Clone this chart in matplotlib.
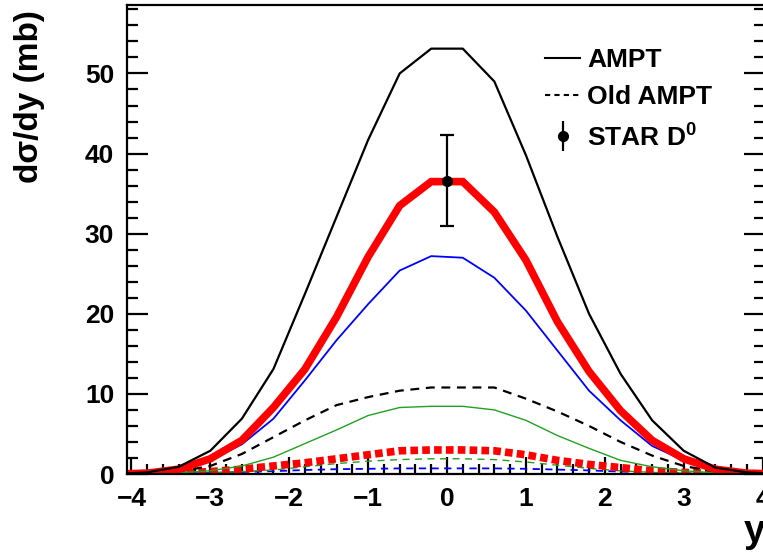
# -*- coding: utf-8 -*-

import matplotlib
matplotlib.use('Agg')
import matplotlib.pyplot as plt
from matplotlib.lines import Line2D
from matplotlib.ticker import MultipleLocator

plt.rcParams['font.family'] = ['Liberation Sans', 'DejaVu Sans']
plt.rcParams['font.weight'] = 'bold'
plt.rcParams['mathtext.fontset'] = 'custom'
plt.rcParams['mathtext.rm'] = 'Liberation Sans:bold'
plt.rcParams['mathtext.bf'] = 'Liberation Sans:bold'

# rapidity points of the model curves
y_pts = [-4.2, -3.8, -3.4, -3.0, -2.6, -2.2, -1.8, -1.4, -1.0, -0.6, -0.2,
         0.2, 0.6, 1.0, 1.4, 1.8, 2.2, 2.6, 3.0, 3.4, 3.8, 4.2]

ampt = [0.0, 0.2, 0.9, 2.9, 6.9, 13.1, 22.5, 32.1, 41.7, 50.0, 53.1,
        53.1, 49.0, 39.8, 29.6, 20.0, 12.5, 6.7, 2.9, 0.8, 0.2, 0.0]
ampt_red = [0.0, 0.1, 0.6, 1.9, 4.2, 8.3, 13.1, 19.6, 27.1, 33.5, 36.5,
            36.5, 32.7, 26.7, 19.0, 12.8, 7.9, 4.2, 1.9, 0.6, 0.1, 0.0]
ampt_blue = [0.0, 0.1, 0.5, 1.7, 3.7, 6.9, 11.7, 16.7, 21.2, 25.4, 27.2,
             27.0, 24.5, 20.4, 15.4, 10.4, 6.7, 3.5, 1.7, 0.5, 0.1, 0.0]
ampt_green = [0.0, 0.05, 0.15, 0.4, 1.0, 2.1, 3.8, 5.5, 7.3, 8.3, 8.45,
              8.45, 8.0, 6.7, 4.8, 3.2, 1.7, 0.9, 0.4, 0.15, 0.05, 0.0]

old_ampt = [0.0, 0.1, 0.3, 1.0, 2.5, 4.6, 6.7, 8.6, 9.6, 10.4, 10.8,
            10.8, 10.8, 9.4, 7.8, 6.0, 4.0, 2.3, 1.0, 0.3, 0.1, 0.0]
old_red = [0.0, 0.05, 0.1, 0.3, 0.6, 1.0, 1.4, 1.9, 2.4, 2.9, 3.0,
           3.0, 2.9, 2.4, 1.7, 1.2, 0.8, 0.4, 0.2, 0.1, 0.05, 0.0]
old_green = [0.0, 0.0, 0.05, 0.1, 0.3, 0.5, 0.9, 1.3, 1.6, 1.8, 1.9,
             1.9, 1.8, 1.5, 1.1, 0.7, 0.4, 0.2, 0.1, 0.05, 0.0, 0.0]
old_blue = [0.0, 0.0, 0.05, 0.15, 0.25, 0.35, 0.5, 0.6, 0.65, 0.7, 0.7,
            0.7, 0.7, 0.65, 0.55, 0.45, 0.3, 0.2, 0.1, 0.05, 0.0, 0.0]

star_y = [0.0]
star_val = [36.6]
star_err = [5.7]

green = '#22a022'

fig = plt.figure(figsize=(7.63, 5.54), dpi=100)
ax = fig.add_axes([0.166, 0.1444, 0.8366, 0.8466])

ax.plot(y_pts, old_blue, color='blue', lw=1.3, dashes=(4, 3))
ax.plot(y_pts, old_green, color=green, lw=1.0, dashes=(5, 4))
ax.plot(y_pts, old_red, color='red', lw=5.5, dashes=(1.0, 0.55))
ax.plot(y_pts, old_ampt, color='black', lw=1.6, dashes=(4, 3))
ax.plot(y_pts, ampt_green, color=green, lw=1.0)
ax.plot(y_pts, ampt_blue, color='blue', lw=1.3)
ax.plot(y_pts, ampt_red, color='red', lw=5.5, solid_joinstyle='miter')
ax.plot(y_pts, ampt, color='black', lw=1.6)
ax.errorbar(star_y, star_val, yerr=star_err, fmt='o', color='black',
            ms=7, lw=1.6, capsize=5, capthick=1.6, zorder=5)

ax.set_xlim(-4.06, 4.03)
ax.set_ylim(0, 58.55)

ax.xaxis.set_major_locator(MultipleLocator(1))
ax.xaxis.set_minor_locator(MultipleLocator(0.2))
ax.yaxis.set_major_locator(MultipleLocator(10))
ax.yaxis.set_minor_locator(MultipleLocator(2))
ax.tick_params(which='both', direction='in', top=False, right=True,
               width=1.6, labelsize=19, pad=9)
ax.tick_params(axis='y', which='major', length=15)
ax.tick_params(axis='y', which='minor', length=8)
ax.tick_params(axis='x', which='major', length=12)
ax.tick_params(axis='x', which='minor', length=7)
for lab in ax.get_xticklabels() + ax.get_yticklabels():
    lab.set_fontweight('bold')
for sp in ax.spines.values():
    sp.set_linewidth(1.6)

ax.set_ylabel('dσ/dy (mb)', fontsize=24, fontweight='bold')
ax.yaxis.set_label_coords(-0.128, 0.805)
ax.set_xlabel('y', fontsize=28, fontweight='bold')
ax.xaxis.set_label_coords(0.984, -0.085)

h1 = Line2D([], [], color='black', lw=1.5)
h2 = Line2D([], [], color='black', lw=1.5, dashes=(2.5, 2))
h3a = Line2D([], [], color='black', marker='|', ms=22, mew=1.6, ls='none')
h3b = Line2D([], [], color='black', marker='o', ms=7, ls='none')
fig.legend([h1, h2, (h3a, h3b)], ['AMPT', 'Old AMPT', r'STAR D$^{0}$'],
           loc='upper left', bbox_to_anchor=(0.714, 0.913), frameon=False,
           fontsize=19, handlelength=1.35, handletextpad=0.25,
           labelspacing=0.5, borderpad=0, borderaxespad=0)

fig.savefig('out.png', dpi=100)
